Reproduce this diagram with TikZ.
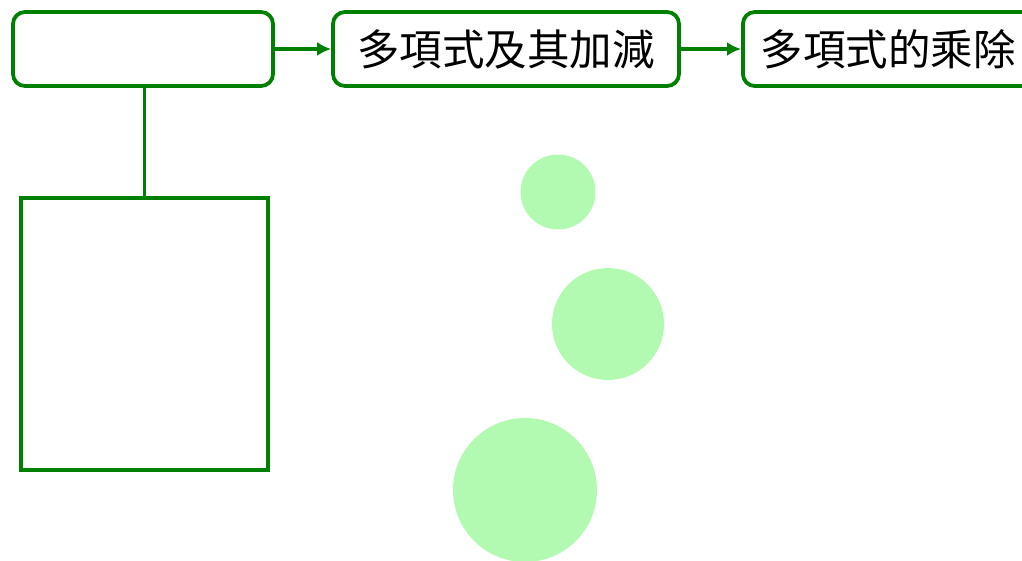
\documentclass[tikz,border=0pt]{standalone}
\usepackage{fontspec}
\usetikzlibrary{arrows.meta}
\newfontfamily\cjk{Noto Sans CJK TC}
\definecolor{boxgreen}{RGB}{0,128,0}
\definecolor{ballgreen}{RGB}{178,250,178}
\begin{document}
\begin{tikzpicture}[x=1pt,y=-1pt,
  rbox/.style={draw=boxgreen,line width=3.8pt,rounded corners=12pt,fill=white,
    minimum height=74pt,inner sep=0pt,font=\cjk\fontsize{42.5}{46}\selectfont},
  sbox/.style={draw=boxgreen,line width=3.8pt,fill=white,inner sep=0pt},
  conn/.style={draw=boxgreen,line width=3.8pt},
  arr/.style={conn,-{Latex[length=14pt,width=14pt]}},
  ball/.style={fill=ballgreen,draw=none}]
\useasboundingbox (0,0) rectangle (1022,560);
\node[rbox,minimum width=260pt] (root) at (143,49) {};
\node[rbox,minimum width=346pt] (add) at (506,49) {\raisebox{-2pt}{多項式及其加減}};
\node[rbox,minimum width=292pt,anchor=west,align=left,text width=292pt] (mul) at (741,49) {\hspace*{18pt}\raisebox{-2pt}{多項式的乘除}};
\node[sbox,minimum width=247pt,minimum height=272pt] (sub) at (144.5,334) {};
\draw[arr] (root.east) -- (add.west);
\draw[arr] (add.east) -- (mul.west);
\draw[conn] (root.south -| sub.north) -- (sub.north);
\fill[ball] (558,192) circle (37.5);
\fill[ball] (608,324) circle (56);
\fill[ball] (525,490) circle (72);
\end{tikzpicture}
\end{document}
